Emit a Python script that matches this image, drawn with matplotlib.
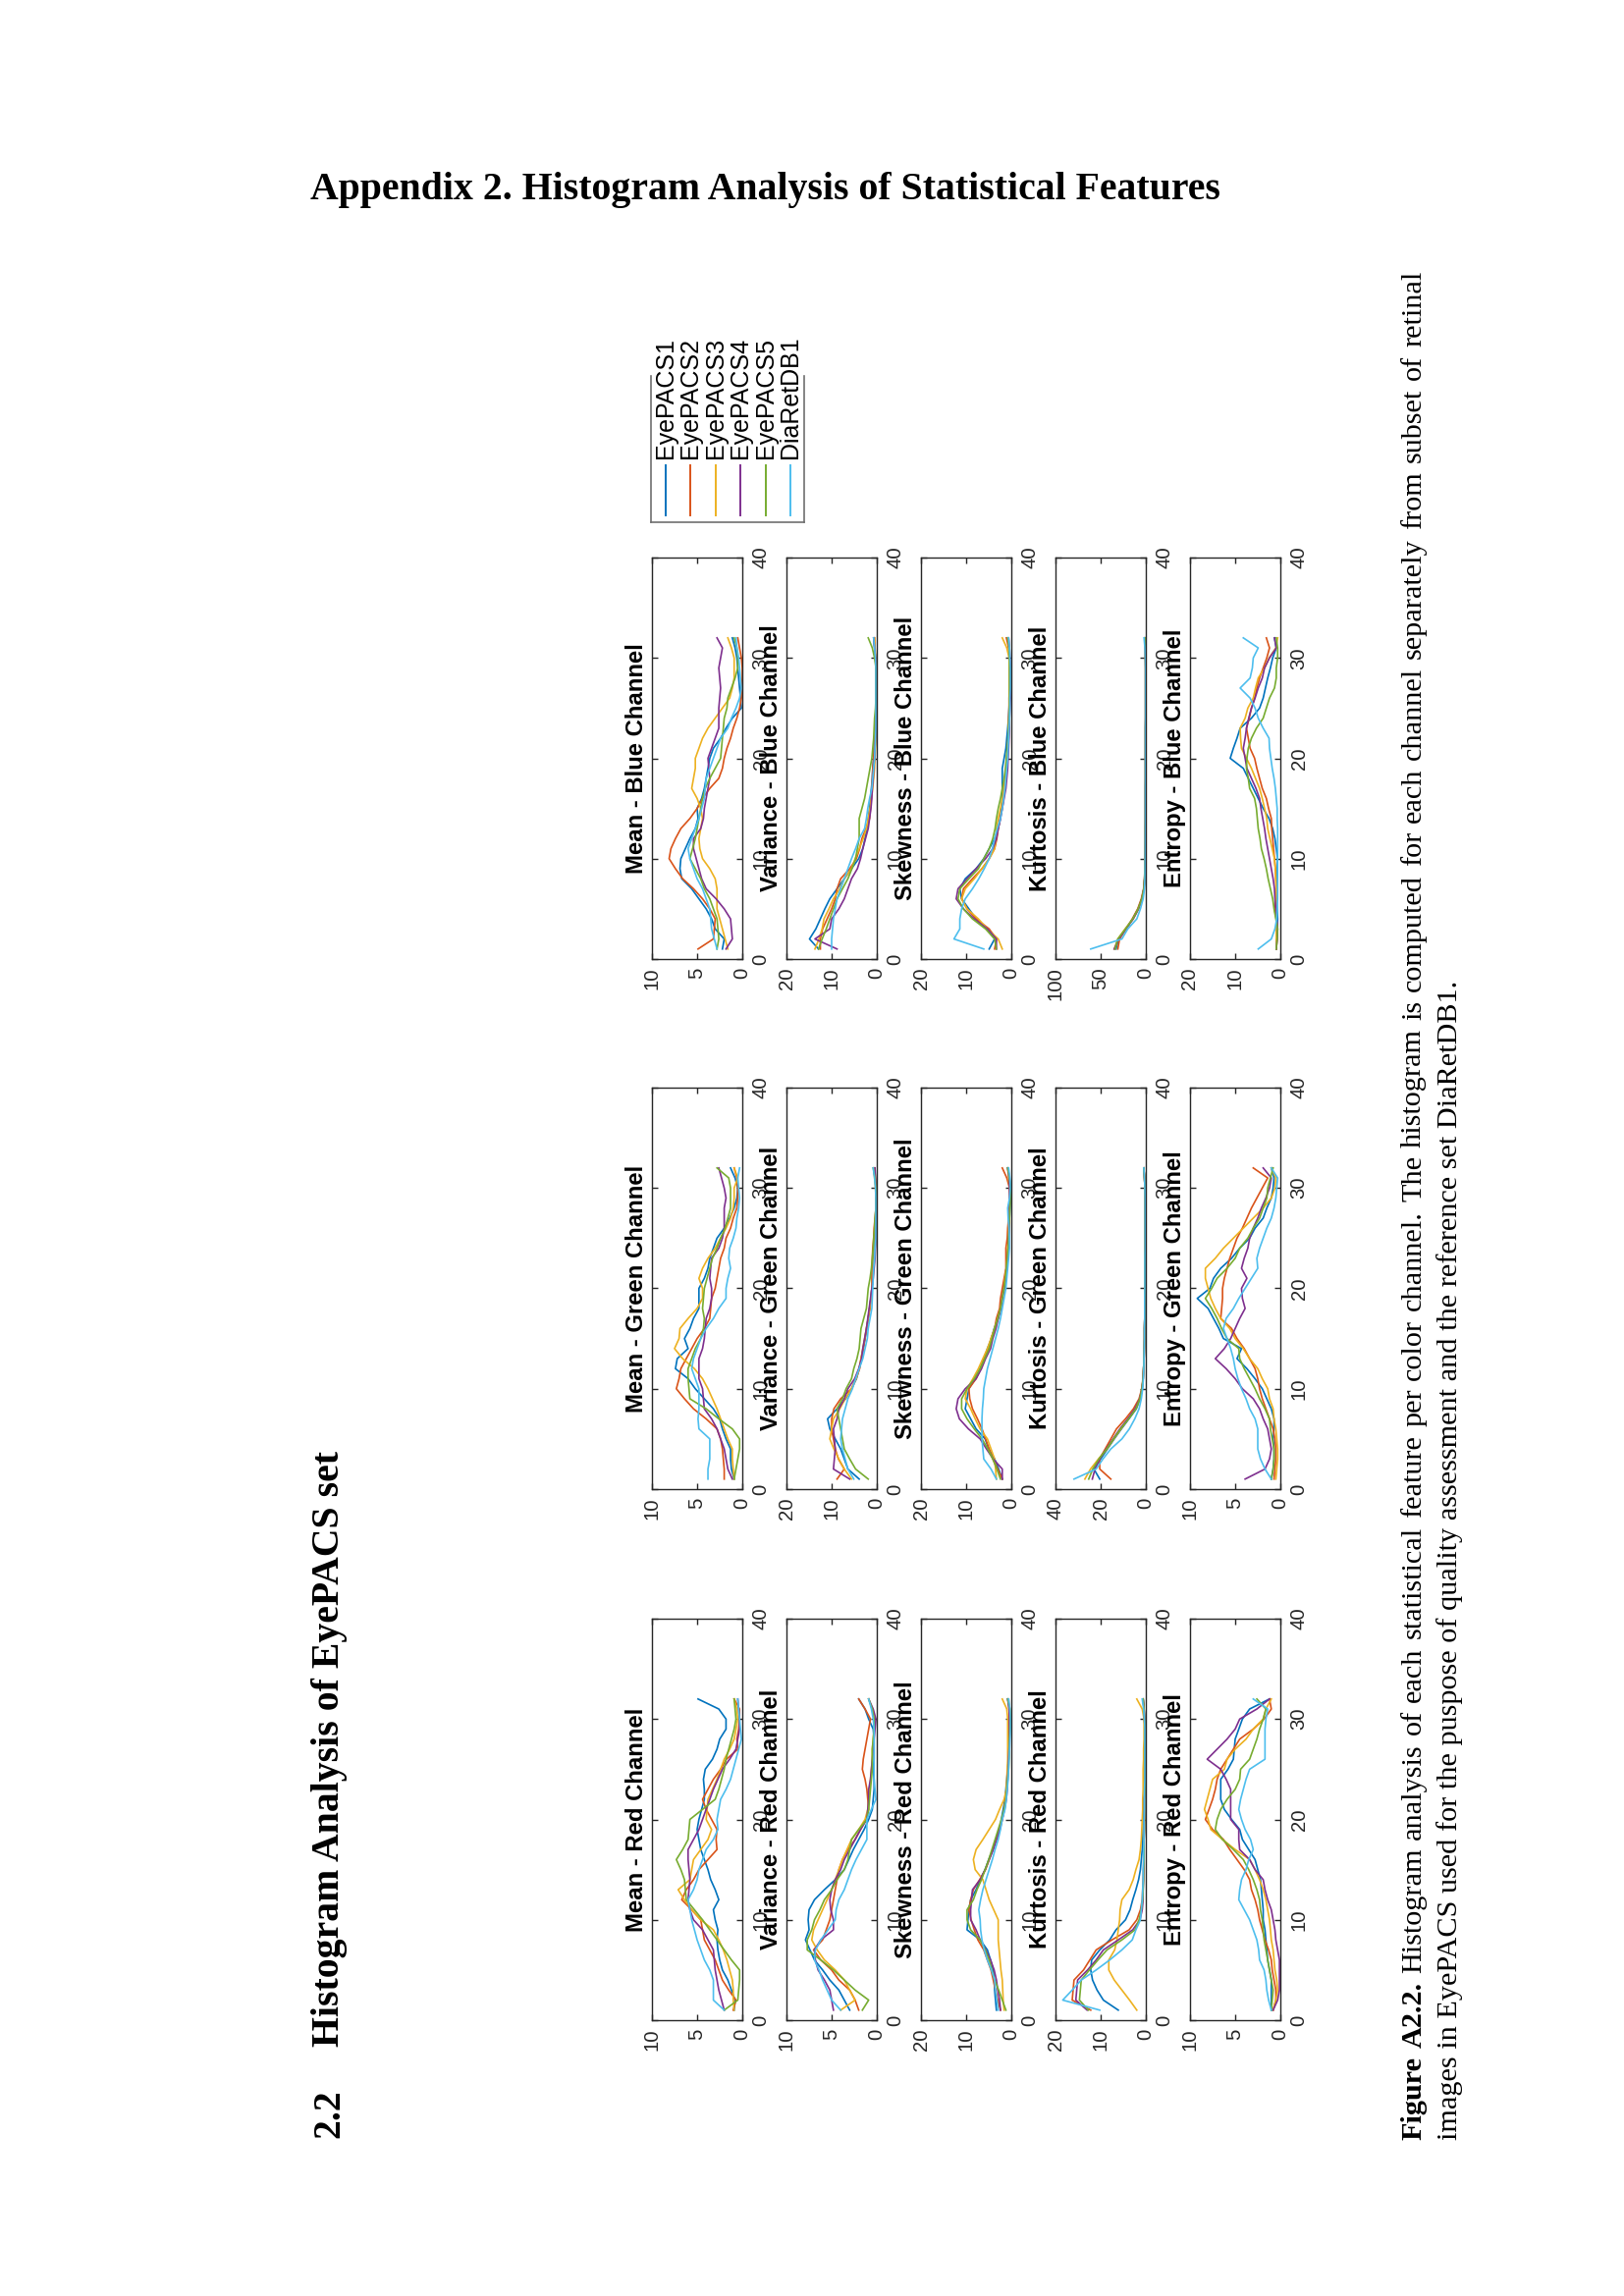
import matplotlib
matplotlib.use("Agg")
import matplotlib.pyplot as plt

plt.rcParams['font.family'] = ['Liberation Sans', 'DejaVu Sans']

W, H = 1654, 2339

# ---------------- data ----------------
bins = list(range(1, 33))
series_names = ['EyePACS1', 'EyePACS2', 'EyePACS3', 'EyePACS4', 'EyePACS5', 'DiaRetDB1']
series_colors = ['#0072BD', '#D95319', '#EDB120', '#7E2F8E', '#77AC30', '#4DBEEE']
channels = ['Red', 'Green', 'Blue']
features = ['Mean', 'Variance', 'Skewness', 'Kurtosis', 'Entropy']
xmax_red = [10, 10, 20, 20, 10]
xmax_green = [10, 20, 20, 40, 10]
xmax_blue = [10, 20, 20, 100, 20]
bin_ticks = [0, 10, 20, 30, 40]

# Mean - Red
mean_red_e1 = [0.9, 0.8, 1.2, 1.6, 2.2, 2.5, 2.7, 2.8, 2.7, 3.0, 3.2, 2.6, 3.0, 3.5, 3.8, 4.2, 4.6, 4.8, 5.0, 4.8, 4.5, 4.2, 4.2, 4.3, 4.1, 3.3, 2.8, 2.5, 1.8, 1.8, 2.6, 4.9]
mean_red_e2 = [1.0, 0.7, 1.5, 2.2, 2.6, 3.0, 3.6, 4.2, 4.4, 4.6, 5.6, 6.7, 6.2, 5.4, 4.8, 3.8, 2.8, 2.9, 2.8, 3.4, 4.0, 4.4, 3.8, 3.2, 2.4, 1.75, 0.5, 0.6, 0.4, 0.3, 0.3, 0.9]
mean_red_e3 = [0.9, 1.0, 1.0, 1.1, 1.4, 1.7, 2.1, 2.6, 3.2, 4.6, 5.6, 6.4, 7.1, 5.8, 5.6, 5.4, 4.6, 3.8, 3.4, 4.0, 3.9, 3.8, 3.3, 2.8, 2.4, 2.0, 1.4, 0.9, 0.7, 0.5, 0.6, 0.9]
mean_red_e4 = [2.0, 2.3, 2.6, 2.8, 3.0, 3.1, 3.2, 3.8, 4.4, 5.4, 5.8, 6.0, 5.9, 5.8, 5.9, 6.0, 6.0, 5.4, 4.8, 4.4, 4.0, 3.6, 3.2, 2.7, 2.2, 1.4, 0.7, 0.5, 0.3, 0.3, 0.4, 0.5]
mean_red_e5 = [2.0, 0.5, 0.4, 0.3, 0.3, 1.2, 2.0, 2.8, 3.6, 4.4, 5.3, 6.2, 6.3, 6.4, 6.8, 7.3, 6.6, 6.0, 5.9, 5.8, 4.4, 3.0, 2.6, 2.3, 2.0, 1.8, 1.5, 1.2, 0.9, 0.7, 0.8, 0.9]
mean_red_e6 = [2.0, 3.2, 3.2, 3.2, 3.6, 4.2, 4.6, 5.0, 5.3, 5.6, 5.8, 6.0, 5.4, 5.0, 4.8, 4.4, 4.0, 3.2, 2.7, 2.8, 2.6, 2.4, 1.8, 1.3, 1.0, 0.7, 0.4, 0.1, 0.2, 0.3, 0.4, 0.5]

# Variance - Red
var_red_e1 = [3.0, 3.6, 4.2, 5.2, 6.0, 6.9, 7.4, 7.9, 7.5, 7.6, 7.5, 6.9, 5.8, 4.6, 3.6, 3.1, 2.6, 2.0, 1.4, 0.9, 0.5, 0.4, 0.3, 0.3, 0.4, 0.3, 0.3, 0.3, 0.4, 0.9, 1.3, 2.0]
var_red_e2 = [2.0, 2.4, 3.0, 4.2, 5.0, 6.2, 7.0, 6.0, 5.6, 5.2, 5.0, 4.8, 4.6, 4.4, 4.2, 3.8, 3.2, 2.4, 1.8, 1.2, 0.9, 1.0, 1.1, 1.3, 1.6, 1.5, 1.3, 1.1, 0.9, 0.7, 1.3, 2.0]
var_red_e3 = [4.0, 2.4, 3.0, 3.6, 4.6, 5.8, 6.6, 7.2, 7.0, 6.5, 6.0, 5.5, 5.0, 4.6, 4.2, 3.8, 3.3, 2.8, 2.0, 1.3, 1.0, 0.9, 0.8, 0.7, 0.6, 0.5, 0.5, 0.4, 0.3, 0.3, 0.5, 0.9]
var_red_e4 = [4.8, 5.0, 5.2, 5.8, 6.5, 6.8, 6.9, 6.2, 4.8, 4.8, 5.1, 5.2, 5.0, 4.6, 4.0, 3.6, 3.0, 2.4, 1.8, 1.1, 1.0, 0.9, 0.9, 0.7, 0.6, 0.5, 0.4, 0.3, 0.2, 0.1, 0.4, 0.9]
var_red_e5 = [1.6, 0.9, 2.4, 3.6, 4.8, 6.2, 7.7, 7.7, 7.2, 6.9, 6.3, 5.8, 5.0, 4.4, 3.6, 3.2, 3.0, 2.8, 2.0, 1.1, 0.9, 0.8, 0.7, 0.6, 0.5, 0.5, 0.5, 0.4, 0.3, 0.3, 0.5, 0.9]
var_red_e6 = [4.0, 5.0, 5.5, 6.0, 6.4, 6.9, 6.8, 6.2, 5.4, 4.6, 4.5, 4.2, 3.6, 3.2, 2.8, 2.3, 1.7, 1.1, 1.1, 1.1, 0.6, 0.1, 0.2, 0.3, 0.3, 0.3, 0.3, 0.3, 0.3, 0.4, 0.6, 0.9]

# Skewness - Red
skew_red_e1 = [3.3, 3.5, 3.7, 3.8, 4.0, 4.6, 5.3, 6.9, 9.8, 9.6, 9.4, 9.0, 7.8, 6.9, 5.8, 5.0, 4.1, 3.4, 2.6, 2.2, 1.8, 1.4, 1.2, 1.0, 0.8, 0.6, 0.6, 0.5, 0.4, 0.4, 0.4, 0.8]
skew_red_e2 = [2.4, 3.0, 3.5, 4.0, 4.5, 5.3, 6.1, 7.4, 8.2, 8.9, 9.4, 9.0, 8.4, 7.0, 5.7, 4.9, 4.1, 3.3, 2.5, 2.0, 1.6, 1.3, 1.1, 0.9, 0.8, 0.6, 0.6, 0.5, 0.4, 0.4, 0.5, 0.6]
skew_red_e3 = [1.6, 1.8, 1.9, 2.0, 2.3, 2.5, 2.7, 2.9, 2.9, 2.9, 3.9, 4.9, 5.6, 6.3, 8.0, 8.4, 7.8, 6.3, 4.9, 3.5, 2.6, 1.6, 1.1, 1.0, 0.9, 0.8, 0.8, 0.8, 0.8, 0.8, 1.0, 2.0]
skew_red_e4 = [2.4, 2.6, 3.0, 3.3, 3.8, 4.6, 5.7, 6.9, 7.8, 9.0, 9.0, 8.8, 8.6, 6.9, 5.8, 4.9, 4.0, 3.3, 2.6, 2.0, 1.5, 1.1, 0.9, 0.8, 0.7, 0.6, 0.5, 0.4, 0.4, 0.4, 0.5, 0.8]
skew_red_e5 = [1.2, 2.0, 2.8, 3.7, 4.3, 4.9, 5.8, 6.9, 9.0, 9.8, 9.8, 8.4, 7.6, 6.6, 5.8, 5.0, 4.3, 3.6, 2.9, 2.2, 1.6, 1.2, 1.0, 0.8, 0.6, 0.5, 0.4, 0.4, 0.3, 0.2, 0.3, 0.8]
skew_red_e6 = [2.9, 3.2, 3.5, 3.7, 4.4, 5.3, 6.0, 6.5, 6.8, 6.9, 7.2, 6.8, 6.3, 5.6, 4.9, 4.2, 3.6, 2.9, 2.4, 2.0, 1.4, 1.1, 0.9, 0.7, 0.6, 0.5, 0.4, 0.3, 0.2, 0.2, 0.3, 0.6]

# Kurtosis - Red
kurt_red_e1 = [6.1, 9.4, 10.8, 11.8, 12.2, 12.0, 10.2, 8.0, 6.6, 4.5, 3.5, 2.9, 2.2, 1.6, 1.2, 1.0, 0.8, 0.7, 0.6, 0.5, 0.4, 0.4, 0.3, 0.3, 0.3, 0.2, 0.2, 0.2, 0.2, 0.3, 0.4, 0.6]
kurt_red_e2 = [12.2, 16.3, 16.1, 15.9, 13.8, 12.4, 11.0, 7.5, 3.7, 2.0, 1.2, 0.8, 0.7, 0.6, 0.5, 0.5, 0.4, 0.4, 0.4, 0.3, 0.3, 0.3, 0.2, 0.2, 0.2, 0.2, 0.2, 0.2, 0.2, 0.3, 0.4, 0.6]
kurt_red_e3 = [2.0, 3.6, 5.3, 7.0, 8.2, 8.2, 6.9, 6.4, 6.1, 5.8, 5.7, 5.3, 3.7, 2.8, 2.2, 1.5, 1.2, 1.0, 0.9, 0.8, 0.7, 0.7, 0.6, 0.6, 0.6, 0.5, 0.5, 0.4, 0.4, 0.4, 0.8, 2.0]
kurt_red_e4 = [13.0, 15.5, 15.3, 15.1, 12.9, 11.0, 9.4, 6.1, 2.9, 1.3, 0.8, 0.6, 0.6, 0.5, 0.5, 0.4, 0.4, 0.4, 0.3, 0.3, 0.3, 0.3, 0.2, 0.2, 0.2, 0.2, 0.2, 0.2, 0.2, 0.3, 0.4, 0.6]
kurt_red_e5 = [12.7, 14.7, 14.5, 14.3, 12.5, 10.6, 8.6, 5.3, 2.4, 1.5, 1.0, 0.7, 0.6, 0.5, 0.5, 0.4, 0.4, 0.4, 0.3, 0.3, 0.3, 0.3, 0.2, 0.2, 0.2, 0.2, 0.2, 0.2, 0.2, 0.3, 0.4, 0.6]
kurt_red_e6 = [10.2, 18.4, 16.3, 14.3, 11.0, 8.0, 5.3, 3.0, 2.2, 1.2, 1.0, 0.8, 0.7, 0.6, 0.6, 0.5, 0.5, 0.4, 0.4, 0.4, 0.3, 0.3, 0.3, 0.2, 0.2, 0.2, 0.2, 0.2, 0.2, 0.3, 0.5, 0.8]

# Entropy - Red
ent_red_e1 = [1.0, 1.0, 1.0, 1.0, 1.2, 1.4, 1.5, 1.6, 1.7, 1.9, 1.9, 2.0, 2.1, 2.2, 2.5, 2.8, 3.5, 4.2, 4.5, 5.4, 6.2, 6.6, 6.6, 6.6, 5.8, 5.2, 5.1, 5.0, 4.6, 4.2, 3.4, 1.2]
ent_red_e2 = [0.8, 0.5, 0.5, 0.7, 0.9, 1.0, 1.3, 1.7, 2.0, 2.3, 2.5, 2.8, 3.2, 3.4, 4.0, 4.8, 5.6, 6.3, 7.5, 8.3, 7.9, 7.5, 7.2, 7.0, 6.6, 5.9, 5.2, 4.5, 3.0, 1.8, 1.0, 1.2]
ent_red_e3 = [0.8, 0.5, 0.3, 0.4, 0.6, 0.7, 0.8, 1.0, 1.1, 1.2, 1.4, 1.6, 1.9, 2.3, 2.8, 3.4, 5.0, 6.4, 7.7, 8.0, 8.4, 8.1, 7.8, 7.5, 6.2, 5.9, 5.0, 3.8, 3.0, 1.9, 1.6, 1.0]
ent_red_e4 = [0.8, 0.3, 0.1, 0.1, 0.1, 0.1, 0.3, 0.5, 0.6, 0.8, 1.0, 1.4, 1.7, 1.9, 2.8, 3.4, 4.5, 4.6, 4.6, 5.5, 5.5, 5.5, 5.5, 6.0, 6.6, 8.1, 7.0, 5.9, 5.0, 4.5, 2.6, 1.2]
ent_red_e5 = [1.0, 0.9, 0.8, 1.0, 1.2, 1.4, 1.6, 1.8, 1.9, 2.0, 2.2, 2.3, 2.6, 3.0, 3.5, 4.1, 5.2, 6.4, 7.2, 7.0, 6.6, 5.9, 5.0, 4.5, 4.4, 3.4, 3.0, 2.6, 2.3, 1.9, 1.6, 2.6]
ent_red_e6 = [1.0, 1.3, 1.5, 1.6, 1.8, 2.3, 2.4, 2.6, 3.0, 3.4, 4.0, 4.6, 4.5, 4.3, 3.8, 3.5, 3.0, 3.3, 3.9, 4.3, 4.6, 4.4, 4.1, 3.8, 3.4, 1.7, 1.7, 1.7, 1.7, 1.6, 1.4, 3.0]

# Mean - Green
mean_green_e1 = [0.9, 1.2, 1.3, 1.3, 1.8, 2.2, 2.5, 3.2, 4.2, 5.2, 6.0, 7.4, 7.2, 6.0, 6.4, 5.8, 5.4, 4.8, 4.8, 4.8, 4.2, 3.8, 3.6, 3.2, 2.8, 2.0, 1.4, 0.9, 0.6, 0.5, 0.8, 1.3]
mean_green_e2 = [2.0, 2.0, 2.1, 2.2, 2.4, 2.8, 4.0, 5.4, 6.4, 7.3, 7.0, 6.8, 6.2, 5.6, 5.0, 4.2, 3.6, 3.5, 3.4, 3.0, 2.8, 2.6, 2.4, 2.0, 1.8, 1.3, 1.0, 0.6, 0.5, 0.5, 0.6, 0.9]
mean_green_e3 = [0.9, 1.0, 1.1, 1.1, 1.6, 2.0, 2.4, 2.8, 3.3, 3.8, 4.4, 5.3, 6.6, 7.5, 7.0, 6.9, 6.0, 5.0, 4.4, 4.4, 4.8, 4.4, 3.8, 3.0, 2.4, 1.8, 1.3, 1.0, 0.9, 0.9, 0.5, 0.9]
mean_green_e4 = [1.1, 1.6, 1.8, 2.0, 2.4, 2.8, 3.4, 4.2, 4.3, 4.4, 4.8, 4.8, 4.8, 4.4, 4.2, 4.1, 4.0, 3.6, 3.4, 3.4, 3.6, 3.5, 3.4, 2.6, 2.2, 2.0, 2.0, 2.0, 1.8, 2.0, 2.3, 2.6]
mean_green_e5 = [0.9, 0.7, 0.5, 0.3, 0.3, 1.1, 2.6, 4.0, 5.8, 5.9, 6.0, 6.0, 5.6, 5.2, 4.6, 4.3, 4.2, 4.4, 4.3, 4.2, 3.9, 3.6, 3.3, 2.8, 2.4, 1.9, 1.6, 1.3, 1.3, 1.3, 1.5, 2.8]
mean_green_e6 = [3.8, 3.8, 3.6, 3.6, 3.6, 4.8, 4.9, 4.8, 4.8, 4.8, 5.2, 5.6, 5.4, 5.0, 4.6, 4.0, 3.2, 2.6, 1.8, 1.8, 1.6, 1.3, 1.5, 1.4, 1.0, 0.7, 0.6, 0.4, 0.3, 0.4, 0.5, 0.3]

# Variance - Green
var_green_e1 = [3.9, 6.4, 7.2, 8.0, 9.2, 10.4, 10.9, 8.8, 6.9, 5.6, 4.5, 3.9, 3.3, 3.0, 2.6, 2.2, 1.9, 1.6, 1.3, 1.1, 0.9, 0.8, 0.7, 0.5, 0.4, 0.3, 0.2, 0.2, 0.2, 0.2, 0.4, 0.7]
var_green_e2 = [8.8, 7.2, 8.5, 9.2, 9.6, 10.0, 10.0, 9.5, 8.0, 5.6, 4.6, 3.8, 3.5, 3.0, 2.6, 2.3, 1.9, 1.5, 1.3, 1.1, 1.1, 1.1, 1.0, 0.9, 0.7, 0.6, 0.4, 0.2, 0.2, 0.2, 0.3, 0.5]
var_green_e3 = [5.6, 7.2, 8.4, 9.5, 10.4, 10.0, 9.6, 8.2, 7.0, 5.6, 4.6, 3.9, 3.5, 3.1, 2.7, 2.3, 1.9, 1.6, 1.3, 1.1, 0.9, 0.7, 0.6, 0.4, 0.3, 0.2, 0.2, 0.2, 0.2, 0.3, 0.5, 0.7]
var_green_e4 = [6.0, 9.6, 9.4, 9.2, 9.4, 9.6, 8.8, 8.4, 7.2, 6.4, 4.9, 4.0, 3.4, 3.1, 2.7, 2.3, 2.0, 1.7, 1.4, 1.1, 0.8, 0.6, 0.4, 0.3, 0.2, 0.2, 0.2, 0.2, 0.2, 0.2, 0.3, 0.4]
var_green_e5 = [1.9, 4.7, 6.0, 7.2, 7.6, 8.0, 8.4, 8.8, 7.6, 6.8, 5.6, 5.1, 4.4, 3.9, 3.7, 3.5, 2.9, 2.3, 2.1, 1.9, 1.5, 1.2, 1.0, 0.8, 0.7, 0.5, 0.4, 0.2, 0.2, 0.2, 0.4, 0.8]
var_green_e6 = [5.1, 6.4, 7.0, 7.6, 8.0, 7.8, 7.6, 7.0, 6.4, 5.4, 4.7, 3.9, 3.1, 2.6, 2.1, 1.9, 1.5, 1.1, 1.0, 0.9, 0.8, 0.7, 0.5, 0.4, 0.2, 0.2, 0.2, 0.2, 0.2, 0.3, 0.5, 0.8]

# Skewness - Green
skew_green_e1 = [2.0, 2.8, 3.7, 5.0, 5.8, 7.8, 9.0, 10.2, 9.8, 9.4, 8.0, 6.9, 6.0, 5.3, 4.4, 3.8, 2.9, 2.4, 2.0, 1.7, 1.4, 1.1, 0.8, 0.7, 0.6, 0.4, 0.4, 0.3, 0.2, 0.2, 0.4, 0.8]
skew_green_e2 = [2.0, 3.0, 4.1, 4.9, 5.7, 6.5, 7.5, 8.6, 9.2, 9.4, 7.8, 6.8, 6.1, 5.0, 4.5, 3.7, 3.3, 2.6, 2.4, 2.0, 1.6, 1.2, 1.2, 1.2, 0.9, 0.8, 0.6, 0.5, 0.4, 0.4, 1.0, 2.0]
skew_green_e3 = [3.3, 3.5, 3.7, 4.5, 5.3, 6.9, 8.0, 9.0, 10.2, 9.8, 8.5, 7.3, 6.3, 5.3, 4.5, 3.7, 3.0, 2.4, 2.0, 1.6, 1.4, 1.1, 0.9, 0.8, 0.6, 0.5, 0.5, 0.4, 0.4, 0.4, 0.6, 0.8]
skew_green_e4 = [2.0, 2.0, 4.0, 5.5, 6.9, 9.5, 11.5, 12.2, 11.8, 10.2, 7.8, 6.6, 5.7, 4.6, 4.1, 3.4, 2.9, 2.3, 2.0, 1.5, 1.2, 1.0, 0.8, 0.7, 0.6, 0.4, 0.4, 0.4, 0.4, 0.4, 0.5, 0.8]
skew_green_e5 = [2.4, 3.2, 4.1, 5.2, 6.5, 8.2, 9.8, 11.0, 11.0, 9.8, 8.2, 6.9, 5.9, 4.9, 4.3, 3.7, 3.0, 2.4, 2.0, 1.6, 1.3, 1.1, 0.9, 0.7, 0.6, 0.5, 0.4, 0.3, 0.2, 0.2, 0.4, 0.8]
skew_green_e6 = [3.3, 4.5, 6.1, 6.3, 6.5, 6.5, 6.5, 6.4, 6.2, 6.1, 5.7, 5.3, 4.7, 4.1, 3.5, 2.9, 2.4, 2.0, 1.6, 1.2, 1.0, 0.8, 0.6, 0.4, 0.4, 0.5, 0.7, 0.8, 0.4, 0.2, 0.3, 0.6]

# Kurtosis - Green
kurt_green_e1 = [20.4, 23.0, 20.0, 17.0, 14.0, 10.8, 7.5, 4.2, 2.5, 1.6, 1.2, 1.0, 0.8, 0.7, 0.6, 0.6, 0.5, 0.5, 0.5, 0.4, 0.4, 0.4, 0.4, 0.3, 0.3, 0.3, 0.3, 0.3, 0.3, 0.4, 0.6, 0.9]
kurt_green_e2 = [15.5, 20.4, 20.5, 18.0, 15.5, 13.0, 9.0, 5.5, 3.0, 1.8, 1.3, 1.0, 0.8, 0.7, 0.6, 0.6, 0.5, 0.5, 0.5, 0.4, 0.4, 0.4, 0.4, 0.3, 0.3, 0.3, 0.3, 0.3, 0.3, 0.4, 0.6, 0.9]
kurt_green_e3 = [27.0, 24.5, 21.0, 17.2, 14.2, 11.0, 7.8, 4.5, 2.6, 1.7, 1.2, 1.0, 0.8, 0.7, 0.6, 0.6, 0.5, 0.5, 0.5, 0.4, 0.4, 0.4, 0.4, 0.3, 0.3, 0.3, 0.3, 0.3, 0.3, 0.4, 0.6, 0.9]
kurt_green_e4 = [23.7, 22.5, 20.5, 17.5, 14.5, 11.5, 8.0, 4.8, 2.7, 1.7, 1.2, 1.0, 0.8, 0.7, 0.6, 0.6, 0.5, 0.5, 0.5, 0.4, 0.4, 0.4, 0.4, 0.3, 0.3, 0.3, 0.3, 0.3, 0.3, 0.4, 0.6, 0.9]
kurt_green_e5 = [25.3, 23.5, 20.8, 17.3, 14.3, 11.2, 7.6, 4.4, 2.6, 1.7, 1.2, 1.0, 0.8, 0.7, 0.6, 0.6, 0.5, 0.5, 0.5, 0.4, 0.4, 0.4, 0.4, 0.3, 0.3, 0.3, 0.3, 0.3, 0.3, 0.4, 0.6, 0.9]
kurt_green_e6 = [31.8, 22.0, 19.0, 15.5, 10.6, 7.3, 4.9, 3.0, 2.0, 1.4, 1.1, 0.9, 0.8, 0.7, 0.6, 0.6, 0.5, 0.5, 0.5, 0.4, 0.4, 0.4, 0.4, 0.3, 0.3, 0.3, 0.3, 0.3, 0.3, 0.4, 0.6, 0.9]

# Entropy - Green
ent_green_e1 = [1.0, 0.8, 0.7, 0.7, 0.8, 0.7, 0.7, 1.0, 1.5, 2.0, 2.8, 3.7, 4.8, 4.3, 6.3, 6.8, 7.4, 8.0, 9.2, 7.8, 7.4, 6.6, 5.4, 4.5, 3.4, 2.8, 1.9, 1.5, 1.0, 0.8, 0.7, 1.0]
ent_green_e2 = [0.7, 0.6, 0.5, 0.5, 0.6, 0.8, 1.2, 1.6, 2.0, 2.3, 2.5, 2.8, 3.4, 4.0, 4.8, 5.4, 6.6, 6.5, 6.4, 6.4, 6.2, 5.9, 5.6, 5.2, 4.8, 4.2, 3.7, 3.2, 2.6, 2.0, 1.4, 3.0]
ent_green_e3 = [0.5, 0.4, 0.3, 0.3, 0.4, 0.5, 0.7, 0.8, 1.2, 1.4, 2.0, 2.5, 3.4, 4.1, 5.0, 5.6, 6.6, 7.2, 7.7, 8.0, 8.3, 8.3, 7.2, 6.3, 5.2, 4.1, 3.0, 1.9, 1.0, 0.6, 0.5, 1.0]
ent_green_e4 = [3.9, 1.7, 1.2, 1.0, 1.2, 1.4, 1.9, 2.3, 3.0, 4.2, 5.0, 6.0, 7.2, 6.2, 5.5, 5.0, 4.5, 3.9, 4.2, 4.3, 3.7, 4.3, 4.0, 3.6, 3.4, 3.0, 2.5, 2.1, 1.6, 1.2, 1.0, 1.9]
ent_green_e5 = [1.0, 0.8, 0.7, 0.7, 0.9, 1.1, 1.2, 1.7, 2.3, 2.8, 3.4, 4.0, 4.5, 4.6, 5.9, 6.5, 7.0, 7.6, 8.3, 7.6, 7.0, 5.9, 5.0, 4.5, 3.6, 3.0, 2.3, 1.9, 1.5, 1.4, 1.1, 0.8]
ent_green_e6 = [1.0, 1.7, 2.2, 2.5, 2.5, 2.5, 2.8, 3.4, 3.8, 4.3, 4.7, 5.0, 5.2, 5.5, 5.9, 6.3, 6.0, 5.2, 4.6, 3.9, 3.2, 2.5, 2.6, 2.3, 1.9, 1.5, 1.0, 0.7, 0.5, 0.4, 0.3, 1.0]

# Mean - Blue
mean_blue_e1 = [2.2, 2.0, 3.0, 3.4, 4.0, 4.8, 5.6, 6.7, 6.9, 6.8, 6.3, 5.8, 5.2, 4.9, 5.0, 4.5, 4.2, 4.0, 3.8, 3.6, 3.2, 2.4, 1.8, 1.1, 0.1, 0.2, 0.3, 0.4, 0.5, 0.6, 0.8, 1.1]
mean_blue_e2 = [4.9, 3.2, 3.1, 3.0, 3.6, 4.4, 5.4, 6.6, 7.4, 8.1, 7.9, 7.4, 6.8, 5.8, 5.0, 4.4, 3.6, 2.6, 2.2, 2.0, 1.7, 1.3, 1.0, 0.6, 0.3, 0.1, 0.1, 0.0, 0.0, 0.1, 0.3, 0.5]
mean_blue_e3 = [1.6, 1.9, 2.2, 2.5, 2.8, 2.8, 2.8, 3.0, 3.6, 4.4, 4.7, 4.8, 4.6, 4.4, 4.6, 5.0, 5.6, 5.4, 5.2, 5.2, 4.8, 4.4, 3.8, 3.0, 2.2, 1.4, 1.1, 0.9, 0.9, 0.9, 1.2, 1.6]
mean_blue_e4 = [1.8, 1.1, 1.2, 1.3, 2.0, 2.9, 4.0, 4.5, 4.8, 5.1, 5.4, 5.4, 4.6, 4.3, 4.2, 4.0, 3.8, 3.6, 3.7, 3.8, 3.4, 3.0, 2.6, 2.6, 2.6, 2.5, 2.4, 2.5, 2.6, 2.4, 2.2, 2.8]
mean_blue_e5 = [2.8, 2.6, 2.7, 2.8, 3.2, 3.6, 4.2, 4.6, 5.2, 5.8, 5.5, 5.2, 5.0, 4.8, 4.6, 4.4, 4.1, 3.6, 3.0, 2.4, 2.3, 2.2, 2.1, 2.0, 1.7, 1.6, 1.2, 0.8, 0.5, 0.5, 0.6, 0.9]
mean_blue_e6 = [2.8, 3.1, 3.4, 3.5, 3.6, 4.0, 4.4, 5.0, 5.4, 5.8, 6.0, 5.6, 5.2, 4.8, 4.5, 4.2, 4.1, 4.0, 3.6, 3.2, 2.8, 2.4, 1.6, 1.2, 0.7, 0.3, 0.1, 0.2, 0.3, 0.4, 0.6, 0.7]

# Variance - Blue
var_blue_e1 = [12.9, 14.9, 13.5, 12.5, 11.5, 10.4, 8.8, 7.2, 5.6, 4.0, 3.1, 2.6, 2.2, 1.9, 1.6, 1.4, 1.2, 1.0, 0.9, 0.7, 0.6, 0.4, 0.3, 0.2, 0.2, 0.2, 0.2, 0.2, 0.2, 0.3, 0.5, 0.7]
var_blue_e2 = [12.5, 12.5, 12.0, 11.0, 10.0, 9.2, 8.8, 8.0, 6.0, 4.5, 3.8, 3.3, 2.4, 1.6, 1.4, 1.3, 1.1, 1.0, 0.9, 0.7, 0.6, 0.4, 0.3, 0.2, 0.2, 0.2, 0.2, 0.2, 0.2, 0.3, 0.4, 0.5]
var_blue_e3 = [13.7, 12.8, 12.1, 11.7, 10.6, 9.6, 8.2, 7.2, 5.6, 4.8, 3.9, 3.0, 2.3, 1.9, 1.5, 1.2, 0.9, 0.7, 0.5, 0.4, 0.3, 0.2, 0.2, 0.2, 0.2, 0.2, 0.2, 0.2, 0.2, 0.3, 0.4, 0.5]
var_blue_e4 = [8.8, 13.7, 10.4, 10.0, 8.4, 7.2, 6.4, 5.6, 4.3, 3.6, 3.1, 2.5, 1.9, 1.6, 1.3, 1.1, 1.0, 0.8, 0.7, 0.5, 0.4, 0.3, 0.2, 0.2, 0.2, 0.2, 0.2, 0.2, 0.2, 0.3, 0.5, 0.7]
var_blue_e5 = [12.9, 12.1, 11.2, 10.4, 9.6, 8.8, 7.6, 6.4, 5.5, 4.7, 4.3, 3.9, 3.9, 3.9, 3.3, 2.7, 2.3, 1.9, 1.5, 1.1, 0.9, 0.7, 0.6, 0.5, 0.3, 0.2, 0.2, 0.2, 0.2, 0.5, 1.0, 1.9]
var_blue_e6 = [10.0, 10.0, 9.8, 9.6, 9.2, 8.8, 8.0, 7.2, 6.4, 5.6, 4.7, 3.9, 2.7, 2.3, 2.0, 1.6, 1.1, 0.9, 0.7, 0.5, 0.4, 0.3, 0.2, 0.2, 0.2, 0.2, 0.2, 0.2, 0.2, 0.3, 0.5, 0.7]

# Skewness - Blue
skew_blue_e1 = [4.9, 3.7, 5.3, 7.8, 9.4, 11.0, 11.4, 10.2, 7.8, 6.1, 4.9, 3.7, 2.9, 2.4, 2.2, 2.0, 2.0, 2.0, 2.0, 1.6, 1.2, 1.0, 0.8, 0.6, 0.5, 0.4, 0.4, 0.4, 0.4, 0.4, 0.5, 0.8]
skew_blue_e2 = [3.7, 3.3, 4.9, 7.8, 9.8, 11.0, 10.6, 8.6, 6.5, 4.9, 3.7, 3.2, 2.9, 2.5, 2.0, 1.7, 1.6, 1.4, 1.2, 1.0, 0.8, 0.7, 0.6, 0.6, 0.5, 0.5, 0.4, 0.4, 0.4, 0.4, 0.6, 1.1]
skew_blue_e3 = [2.0, 2.9, 5.3, 7.3, 9.8, 11.0, 10.2, 8.2, 6.5, 4.9, 3.7, 3.4, 3.3, 2.9, 2.4, 2.0, 1.6, 1.3, 1.1, 0.9, 0.8, 0.6, 0.6, 0.5, 0.4, 0.4, 0.4, 0.4, 0.4, 0.5, 1.0, 2.0]
skew_blue_e4 = [3.3, 3.3, 5.3, 8.2, 10.6, 12.2, 11.8, 9.8, 7.8, 5.7, 4.1, 3.3, 2.9, 2.4, 2.0, 1.6, 1.2, 1.0, 0.8, 0.7, 0.6, 0.5, 0.4, 0.4, 0.3, 0.2, 0.2, 0.2, 0.2, 0.3, 0.4, 0.6]
skew_blue_e5 = [3.3, 3.7, 5.7, 8.6, 10.6, 11.8, 11.4, 9.4, 7.3, 6.1, 4.9, 4.1, 3.6, 3.3, 2.9, 2.4, 2.0, 1.6, 1.3, 1.1, 0.9, 0.7, 0.6, 0.5, 0.4, 0.4, 0.4, 0.4, 0.4, 0.4, 0.5, 0.8]
skew_blue_e6 = [6.1, 12.7, 11.4, 11.4, 11.0, 10.2, 8.6, 7.2, 6.0, 4.9, 4.2, 3.7, 3.1, 2.4, 2.0, 1.7, 1.4, 1.2, 1.0, 0.8, 0.7, 0.6, 0.5, 0.4, 0.3, 0.3, 0.2, 0.2, 0.2, 0.3, 0.4, 0.6]

# Kurtosis - Blue
kurt_blue_e1 = [33, 30, 22, 14.5, 8.5, 4.5, 2.2, 1.4, 1.0, 0.8, 0.7, 0.6, 0.6, 0.5, 0.5, 0.5, 0.5, 0.4, 0.4, 0.4, 0.4, 0.4, 0.4, 0.3, 0.3, 0.3, 0.3, 0.3, 0.3, 0.4, 0.5, 0.8]
kurt_blue_e2 = [31, 29, 22, 15, 9, 5, 2.5, 1.5, 1.1, 0.9, 0.7, 0.6, 0.6, 0.5, 0.5, 0.5, 0.5, 0.4, 0.4, 0.4, 0.4, 0.4, 0.4, 0.3, 0.3, 0.3, 0.3, 0.3, 0.3, 0.4, 0.5, 0.8]
kurt_blue_e3 = [35, 31, 23, 14, 8, 4, 2, 1.3, 1.0, 0.8, 0.7, 0.6, 0.6, 0.5, 0.5, 0.5, 0.5, 0.4, 0.4, 0.4, 0.4, 0.4, 0.4, 0.3, 0.3, 0.3, 0.3, 0.3, 0.3, 0.4, 0.5, 0.8]
kurt_blue_e4 = [35, 30, 22, 14, 8, 4.2, 2.1, 1.3, 1.0, 0.8, 0.7, 0.6, 0.6, 0.5, 0.5, 0.5, 0.5, 0.4, 0.4, 0.4, 0.4, 0.4, 0.4, 0.3, 0.3, 0.3, 0.3, 0.3, 0.3, 0.4, 0.5, 0.8]
kurt_blue_e5 = [34, 31, 22.5, 14.5, 8.5, 4.4, 2.2, 1.4, 1.0, 0.8, 0.7, 0.6, 0.6, 0.5, 0.5, 0.5, 0.5, 0.4, 0.4, 0.4, 0.4, 0.4, 0.4, 0.3, 0.3, 0.3, 0.3, 0.3, 0.3, 0.4, 0.5, 0.8]
kurt_blue_e6 = [61, 26.5, 20, 10, 6, 3, 1.5, 1.0, 0.8, 0.7, 0.6, 0.6, 0.5, 0.5, 0.5, 0.5, 0.5, 0.4, 0.4, 0.4, 0.4, 0.4, 0.4, 0.3, 0.3, 0.3, 0.3, 0.3, 0.3, 0.5, 1.0, 2.0]

# Entropy - Blue
ent_blue_e1 = [0.9, 0.8, 0.7, 0.6, 0.7, 0.8, 0.9, 0.8, 0.7, 0.6, 0.9, 1.2, 1.7, 2.5, 3.8, 4.9, 6.0, 7.1, 8.2, 11.1, 10.4, 9.6, 8.9, 6.4, 4.6, 3.8, 3.3, 2.8, 2.2, 1.7, 0.9, 1.3]
ent_blue_e2 = [0.9, 0.7, 0.6, 0.9, 1.3, 1.1, 0.9, 1.0, 1.1, 1.3, 1.5, 1.7, 1.9, 2.0, 2.6, 3.1, 4.0, 4.6, 5.2, 5.7, 6.7, 7.1, 7.5, 6.9, 6.4, 5.7, 5.2, 4.6, 3.8, 3.0, 2.4, 3.1]
ent_blue_e3 = [0.9, 0.9, 0.9, 0.9, 0.9, 0.9, 0.9, 1.0, 1.1, 1.3, 1.8, 2.3, 2.8, 3.0, 3.5, 4.0, 4.6, 5.5, 6.4, 7.5, 8.6, 8.8, 8.9, 7.8, 7.2, 6.0, 5.5, 4.9, 3.5, 2.5, 1.0, 0.6]
ent_blue_e4 = [0.9, 0.7, 0.6, 0.8, 1.0, 1.2, 1.3, 1.6, 2.0, 2.4, 2.8, 3.2, 3.5, 3.9, 4.3, 4.6, 5.4, 6.4, 7.4, 7.8, 8.2, 7.8, 7.5, 7.0, 6.4, 5.6, 4.9, 4.0, 3.5, 2.4, 0.9, 1.3]
ent_blue_e5 = [0.9, 0.7, 0.6, 1.0, 1.4, 1.7, 2.2, 2.7, 3.1, 3.6, 4.2, 4.5, 4.9, 5.1, 5.3, 5.7, 6.8, 7.1, 7.5, 7.4, 7.1, 6.4, 5.3, 3.8, 3.1, 2.4, 1.3, 0.9, 0.9, 0.6, 0.6, 0.9]
ent_blue_e6 = [4.9, 2.0, 1.2, 0.8, 0.7, 0.6, 0.6, 0.6, 0.6, 0.6, 0.6, 0.6, 0.6, 0.7, 0.7, 0.9, 1.1, 1.4, 1.8, 2.1, 2.4, 2.5, 3.8, 4.9, 5.6, 6.7, 8.9, 6.7, 6.2, 6.0, 4.9, 8.2]

panel_data = {
    ('Red', 'Mean'): [mean_red_e1, mean_red_e2, mean_red_e3, mean_red_e4, mean_red_e5, mean_red_e6],
    ('Red', 'Variance'): [var_red_e1, var_red_e2, var_red_e3, var_red_e4, var_red_e5, var_red_e6],
    ('Red', 'Skewness'): [skew_red_e1, skew_red_e2, skew_red_e3, skew_red_e4, skew_red_e5, skew_red_e6],
    ('Red', 'Kurtosis'): [kurt_red_e1, kurt_red_e2, kurt_red_e3, kurt_red_e4, kurt_red_e5, kurt_red_e6],
    ('Red', 'Entropy'): [ent_red_e1, ent_red_e2, ent_red_e3, ent_red_e4, ent_red_e5, ent_red_e6],
    ('Green', 'Mean'): [mean_green_e1, mean_green_e2, mean_green_e3, mean_green_e4, mean_green_e5, mean_green_e6],
    ('Green', 'Variance'): [var_green_e1, var_green_e2, var_green_e3, var_green_e4, var_green_e5, var_green_e6],
    ('Green', 'Skewness'): [skew_green_e1, skew_green_e2, skew_green_e3, skew_green_e4, skew_green_e5, skew_green_e6],
    ('Green', 'Kurtosis'): [kurt_green_e1, kurt_green_e2, kurt_green_e3, kurt_green_e4, kurt_green_e5, kurt_green_e6],
    ('Green', 'Entropy'): [ent_green_e1, ent_green_e2, ent_green_e3, ent_green_e4, ent_green_e5, ent_green_e6],
    ('Blue', 'Mean'): [mean_blue_e1, mean_blue_e2, mean_blue_e3, mean_blue_e4, mean_blue_e5, mean_blue_e6],
    ('Blue', 'Variance'): [var_blue_e1, var_blue_e2, var_blue_e3, var_blue_e4, var_blue_e5, var_blue_e6],
    ('Blue', 'Skewness'): [skew_blue_e1, skew_blue_e2, skew_blue_e3, skew_blue_e4, skew_blue_e5, skew_blue_e6],
    ('Blue', 'Kurtosis'): [kurt_blue_e1, kurt_blue_e2, kurt_blue_e3, kurt_blue_e4, kurt_blue_e5, kurt_blue_e6],
    ('Blue', 'Entropy'): [ent_blue_e1, ent_blue_e2, ent_blue_e3, ent_blue_e4, ent_blue_e5, ent_blue_e6],
}
xmax_by_channel = {'Red': xmax_red, 'Green': xmax_green, 'Blue': xmax_blue}

# ---------------- layout (page pixels) ----------------
PANEL_W, PANEL_H = 92, 409
COL_X0, COL_DX = 664, 137
ROW_TOP = {'Red': 1649, 'Green': 1108, 'Blue': 568}
AX_COLOR = '#262626'

fig = plt.figure(figsize=(W / 200, H / 200), dpi=200)


def px_axes(x, y, w, h):
    return fig.add_axes([x / W, 1 - (y + h) / H, w / W, h / H])


def fmt(v):
    return str(int(v)) if float(v).is_integer() else str(v)


for ch in channels:
    for j, feat in enumerate(features):
        x0 = COL_X0 + j * COL_DX
        y0 = ROW_TOP[ch]
        ax = px_axes(x0, y0, PANEL_W, PANEL_H)
        vmax = xmax_by_channel[ch][j]
        for vals, col in zip(panel_data[(ch, feat)], series_colors):
            ax.plot(vals, bins, color=col, lw=0.6)
        ax.set_xlim(vmax, 0)
        ax.set_ylim(0, 40)
        xt = [0, vmax / 2, vmax]
        ax.set_xticks(xt)
        ax.set_xticklabels([fmt(v) for v in xt])
        ax.set_yticks(bin_ticks)
        ax.set_yticklabels([str(b) for b in bin_ticks])
        ax.tick_params(axis='x', direction='in', top=True, bottom=True,
                       labelbottom=True, labelrotation=90, length=2.0,
                       width=0.5, labelsize=7.3, pad=3.0, colors=AX_COLOR)
        ax.tick_params(axis='y', direction='in', left=True, right=True,
                       labelleft=False, labelright=True, labelrotation=90,
                       length=2.0, width=0.5, labelsize=7.3, pad=3.5,
                       colors=AX_COLOR)
        for lab in ax.get_yticklabels():
            lab.set_va('center')
        for sp in ax.spines.values():
            sp.set_linewidth(0.5)
            sp.set_color(AX_COLOR)
        fig.text((x0 - 4) / W, 1 - (y0 + PANEL_H / 2) / H,
                 f'{feat} - {ch} Channel', rotation=90, ha='right',
                 va='center', fontsize=8.6, fontweight='bold', color='black')

# ---------------- legend ----------------
LX, LY, LW, LH = 663, 383, 156, 149
lax = px_axes(LX, LY, LW, LH)
lax.set_xlim(0, LW)
lax.set_ylim(LH, 0)
lax.set_xticks([])
lax.set_yticks([])
lax.spines['top'].set_visible(False)
for k in ['left', 'right', 'bottom']:
    lax.spines[k].set_color('#707070')
    lax.spines[k].set_linewidth(0.6)
lax.patch.set_alpha(0)
for i, (name, col) in enumerate(zip(series_names, series_colors)):
    cx = 15 + i * 25.4
    lax.plot([cx, cx], [91, 142], color=col, lw=0.7)
    lax.text(cx, 84, name, rotation=90, ha='center', va='bottom',
             fontsize=9.0, color='black', clip_on=False)

# ---------------- page text ----------------
SERIF = ['Liberation Serif', 'DejaVu Serif']
fig.text(316 / W, 1 - 194 / H,
         'Appendix 2. Histogram Analysis of Statistical Features',
         ha='left', va='center', fontsize=14.3, fontweight='bold', family=SERIF)

fig.text(336 / W, 1 - 2178 / H, '2.2', rotation=90, ha='center', va='bottom',
         fontsize=14.3, fontweight='bold', family=SERIF)
fig.text(336 / W, 1 - 2085 / H, 'Histogram Analysis of EyePACS set', rotation=90,
         ha='center', va='bottom', fontsize=14.3, fontweight='bold', family=SERIF)

# caption: first line justified between page y 2180 and 276
renderer = fig.canvas.get_renderer()
cap_line1 = ('Histogram analysis of each statistical feature per color channel. '
             'The histogram is computed for each channel separately from subset of retinal')
words = [('Figure', 'bold'), ('A2.2.', 'bold')] + [(w, 'normal') for w in cap_line1.split()]
objs = []
for w, wt in words:
    t = fig.text(1440 / W, 0.5, w, rotation=90, ha='center', va='bottom',
                 fontsize=10.9, fontweight=wt, family=SERIF)
    objs.append(t)
lengths = [t.get_window_extent(renderer).height for t in objs]
y_start, y_end = 2180, 276
gap = ((y_start - y_end) - sum(lengths)) / (len(objs) - 1)
pos = H - y_start
for t, L in zip(objs, lengths):
    t.set_y(pos / H)
    pos += L + gap

fig.text(1477 / W, 1 - 2180 / H,
         'images in EyePACS used for the puspose of quality assessment and the '
         'reference set DiaRetDB1.',
         rotation=90, ha='center', va='bottom', fontsize=10.9, family=SERIF)

fig.savefig('out.png', dpi=200, facecolor='white')
